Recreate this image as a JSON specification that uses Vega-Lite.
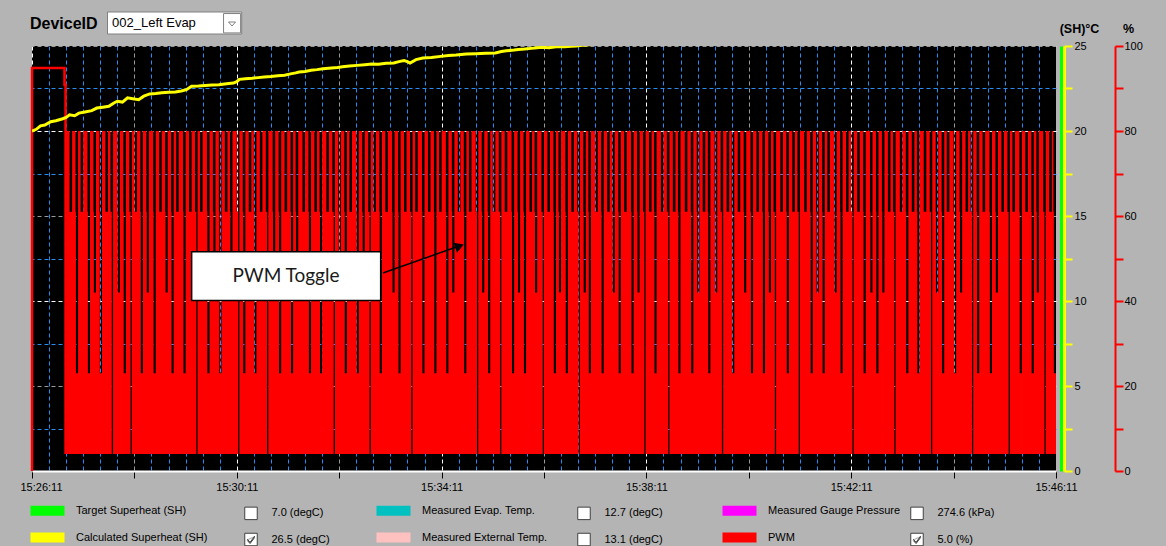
{
  "$schema": "https://vega.github.io/schema/vega-lite/v6.json",
  "autosize": {"type": "none"},
  "padding": {"left": 32, "top": 46, "right": 110, "bottom": 75},
  "width": 1024,
  "height": 425,
  "background": "#b4b4b4",
  "config": {
    "view": {"fill": "#000000", "stroke": null},
    "font": "Liberation Sans",
    "axis": {"labelFont": "Liberation Sans", "titleFont": "Liberation Sans"},
    "legend": {"labelFont": "Liberation Sans", "titleFont": "Liberation Sans"}
  },
  "encoding": {
    "x": {
      "field": "t",
      "type": "quantitative",
      "scale": {"domain": [0, 1200], "nice": false, "zero": false},
      "axis": {
        "title": null,
        "values": [0,20,40,60,80,100,120,140,160,180,200,220,240,260,280,300,320,340,360,380,400,420,440,460,480,500,520,540,560,580,600,620,640,660,680,700,720,740,760,780,800,820,840,860,880,900,920,940,960,980,1000,1020,1040,1060,1080,1100,1120,1140,1160,1180,1200],
        "domainColor": "#ffffff",
        "domainWidth": 2,
        "tickColor": "#000000",
        "tickSize": 7,
        "tickWidth": 1,
        "tickOpacity": {"condition": {"test": "datum.value % 120 == 0", "value": 1}, "value": 0},
        "labelExpr": "datum.value % 240 == 0 ? timeFormat(datetime(2024, 0, 1, 15, 26, 11 + datum.value), '%H:%M:%S') : ''",
        "labelFontSize": 11,
        "labelColor": "#000000",
        "labelPadding": 3,
        "labelFlush": false,
        "labelOverlap": false,
        "labelBound": false,
        "labelOffset": {"condition": {"test": "datum.value == 0", "value": 9}, "value": 0},
        "grid": true,
        "gridColor": {"condition": {"test": "datum.value % 120 == 0", "value": "#ffffff"}, "value": "#2a8cf0"},
        "gridOpacity": {"condition": {"test": "datum.value % 240 == 0 || datum.value % 120 != 0", "value": 1}, "value": 0.6},
        "gridWidth": {"condition": {"test": "datum.value == 1200", "value": 0}, "value": 1},
        "gridDash": [4, 3]
      }
    }
  },
  "resolve": {"scale": {"y": "independent"}, "axis": {"y": "independent"}},
  "layer": [
    {
      "data": {"values": [
        {"t":40,"p":80},{"t":44,"p":61},
        {"t":47,"p":80},{"t":51,"p":61},{"t":51.5,"p":23},
        {"t":54,"p":80},{"t":57,"p":61},
        {"t":60,"p":80},{"t":65,"p":61},{"t":65.5,"p":23},
        {"t":68,"p":80},{"t":72,"p":61},{"t":72.5,"p":42},
        {"t":75,"p":80},{"t":79,"p":61},{"t":79.5,"p":23},
        {"t":82,"p":80},{"t":86,"p":61},
        {"t":89,"p":80},{"t":92,"p":61},{"t":93.5,"p":4},
        {"t":95,"p":80},{"t":100,"p":61},{"t":100.5,"p":42},
        {"t":103,"p":80},{"t":107,"p":61},{"t":107.5,"p":23},
        {"t":110,"p":80},{"t":114,"p":61},{"t":115.5,"p":4},
        {"t":117,"p":80},{"t":120,"p":61},
        {"t":123,"p":80},{"t":127,"p":61},{"t":127.5,"p":23},
        {"t":130,"p":80},{"t":134,"p":61},{"t":134.5,"p":42},
        {"t":137,"p":80},{"t":142,"p":61},{"t":142.5,"p":23},
        {"t":145,"p":80},{"t":149,"p":61},
        {"t":152,"p":80},{"t":156,"p":61},{"t":156.5,"p":42},
        {"t":159,"p":80},{"t":163,"p":61},{"t":163.5,"p":23},
        {"t":166,"p":80},{"t":169,"p":61},
        {"t":172,"p":80},{"t":177,"p":61},{"t":177.5,"p":23},
        {"t":180,"p":80},{"t":184,"p":61},
        {"t":187,"p":80},{"t":191,"p":61},{"t":192.5,"p":4},
        {"t":194,"p":80},{"t":197,"p":61},
        {"t":200,"p":80},{"t":205,"p":61},{"t":205.5,"p":23},
        {"t":208,"p":80},{"t":212,"p":61},{"t":212.5,"p":42},
        {"t":215,"p":80},{"t":219,"p":61},{"t":219.5,"p":23},
        {"t":222,"p":80},{"t":226,"p":61},
        {"t":229,"p":80},{"t":232,"p":61},{"t":232.5,"p":42},
        {"t":235,"p":80},{"t":240,"p":61},{"t":241.5,"p":4},
        {"t":243,"p":80},{"t":247,"p":61},{"t":247.5,"p":23},
        {"t":250,"p":80},{"t":254,"p":61},
        {"t":257,"p":80},{"t":260,"p":61},{"t":260.5,"p":23},
        {"t":263,"p":80},{"t":267,"p":61},
        {"t":270,"p":80},{"t":274,"p":61},{"t":275.5,"p":4},
        {"t":277,"p":80},{"t":282,"p":61},{"t":282.5,"p":42},
        {"t":285,"p":80},{"t":289,"p":61},{"t":289.5,"p":23},
        {"t":292,"p":80},{"t":296,"p":61},
        {"t":299,"p":80},{"t":303,"p":61},{"t":303.5,"p":23},
        {"t":306,"p":80},{"t":309,"p":61},{"t":309.5,"p":42},
        {"t":312,"p":80},{"t":317,"p":61},
        {"t":320,"p":80},{"t":324,"p":61},{"t":324.5,"p":23},
        {"t":327,"p":80},{"t":331,"p":61},
        {"t":334,"p":80},{"t":337,"p":61},{"t":337.5,"p":23},
        {"t":340,"p":80},{"t":345,"p":61},
        {"t":348,"p":80},{"t":352,"p":61},{"t":353.5,"p":4},
        {"t":355,"p":80},{"t":359,"p":61},{"t":359.5,"p":42},
        {"t":362,"p":80},{"t":366,"p":61},{"t":366.5,"p":23},
        {"t":369,"p":80},{"t":372,"p":61},
        {"t":375,"p":80},{"t":380,"p":61},{"t":380.5,"p":23},
        {"t":383,"p":80},{"t":387,"p":61},{"t":387.5,"p":42},
        {"t":390,"p":80},{"t":394,"p":61},{"t":395.5,"p":4},
        {"t":397,"p":80},{"t":400,"p":61},
        {"t":403,"p":80},{"t":407,"p":61},{"t":407.5,"p":23},
        {"t":410,"p":80},{"t":414,"p":61},
        {"t":417,"p":80},{"t":422,"p":61},{"t":422.5,"p":42},
        {"t":425,"p":80},{"t":429,"p":61},{"t":429.5,"p":23},
        {"t":432,"p":80},{"t":436,"p":61},
        {"t":439,"p":80},{"t":443,"p":61},{"t":444.5,"p":4},
        {"t":446,"p":80},{"t":449,"p":61},
        {"t":452,"p":80},{"t":457,"p":61},{"t":457.5,"p":23},
        {"t":460,"p":80},{"t":464,"p":61},
        {"t":467,"p":80},{"t":471,"p":61},{"t":471.5,"p":23},
        {"t":474,"p":80},{"t":477,"p":61},
        {"t":480,"p":80},{"t":485,"p":61},{"t":485.5,"p":23},
        {"t":488,"p":80},{"t":492,"p":61},{"t":492.5,"p":42},
        {"t":495,"p":80},{"t":499,"p":61},
        {"t":502,"p":80},{"t":506,"p":61},{"t":506.5,"p":23},
        {"t":509,"p":80},{"t":512,"p":61},
        {"t":515,"p":80},{"t":520,"p":61},{"t":521.5,"p":4},
        {"t":523,"p":80},{"t":527,"p":61},{"t":527.5,"p":42},
        {"t":530,"p":80},{"t":534,"p":61},{"t":534.5,"p":23},
        {"t":537,"p":80},{"t":540,"p":61},
        {"t":543,"p":80},{"t":547,"p":61},{"t":548.5,"p":4},
        {"t":550,"p":80},{"t":554,"p":61},
        {"t":557,"p":80},{"t":562,"p":61},{"t":562.5,"p":23},
        {"t":565,"p":80},{"t":569,"p":61},{"t":569.5,"p":42},
        {"t":572,"p":80},{"t":576,"p":61},{"t":576.5,"p":23},
        {"t":579,"p":80},{"t":583,"p":61},
        {"t":586,"p":80},{"t":589,"p":61},{"t":589.5,"p":42},
        {"t":592,"p":80},{"t":597,"p":61},{"t":598.5,"p":4},
        {"t":600,"p":80},{"t":604,"p":61},
        {"t":607,"p":80},{"t":611,"p":61},{"t":611.5,"p":23},
        {"t":614,"p":80},{"t":617,"p":61},{"t":617.5,"p":42},
        {"t":620,"p":80},{"t":625,"p":61},{"t":625.5,"p":23},
        {"t":628,"p":80},{"t":632,"p":61},
        {"t":635,"p":80},{"t":639,"p":61},{"t":640.5,"p":4},
        {"t":642,"p":80},{"t":646,"p":61},{"t":646.5,"p":42},
        {"t":649,"p":80},{"t":652,"p":61},{"t":652.5,"p":23},
        {"t":655,"p":80},{"t":660,"p":61},
        {"t":663,"p":80},{"t":667,"p":61},{"t":667.5,"p":23},
        {"t":670,"p":80},{"t":674,"p":61},
        {"t":677,"p":80},{"t":680,"p":61},{"t":680.5,"p":42},
        {"t":683,"p":80},{"t":687,"p":61},{"t":687.5,"p":23},
        {"t":690,"p":80},{"t":694,"p":61},
        {"t":697,"p":80},{"t":702,"p":61},{"t":702.5,"p":23},
        {"t":705,"p":80},{"t":709,"p":61},{"t":709.5,"p":42},
        {"t":712,"p":80},{"t":716,"p":61},{"t":717.5,"p":4},
        {"t":719,"p":80},{"t":723,"p":61},
        {"t":726,"p":80},{"t":729,"p":61},{"t":729.5,"p":23},
        {"t":732,"p":80},{"t":737,"p":61},
        {"t":740,"p":80},{"t":744,"p":61},{"t":745.5,"p":4},
        {"t":747,"p":80},{"t":751,"p":61},
        {"t":754,"p":80},{"t":757,"p":61},{"t":757.5,"p":23},
        {"t":760,"p":80},{"t":765,"p":61},
        {"t":768,"p":80},{"t":772,"p":61},{"t":772.5,"p":23},
        {"t":775,"p":80},{"t":779,"p":61},{"t":779.5,"p":42},
        {"t":782,"p":80},{"t":786,"p":61},
        {"t":789,"p":80},{"t":792,"p":61},{"t":792.5,"p":23},
        {"t":795,"p":80},{"t":800,"p":61},{"t":800.5,"p":42},
        {"t":803,"p":80},{"t":807,"p":61},{"t":808.5,"p":4},
        {"t":810,"p":80},{"t":814,"p":61},
        {"t":817,"p":80},{"t":820,"p":61},{"t":820.5,"p":23},
        {"t":823,"p":80},{"t":827,"p":61},
        {"t":830,"p":80},{"t":834,"p":61},{"t":834.5,"p":42},
        {"t":837,"p":80},{"t":842,"p":61},{"t":842.5,"p":23},
        {"t":845,"p":80},{"t":849,"p":61},
        {"t":852,"p":80},{"t":856,"p":61},{"t":856.5,"p":23},
        {"t":859,"p":80},{"t":863,"p":61},{"t":863.5,"p":42},
        {"t":866,"p":80},{"t":869,"p":61},{"t":870.5,"p":4},
        {"t":872,"p":80},{"t":877,"p":61},
        {"t":880,"p":80},{"t":884,"p":61},{"t":884.5,"p":23},
        {"t":887,"p":80},{"t":891,"p":61},
        {"t":894,"p":80},{"t":897,"p":61},{"t":898.5,"p":4},
        {"t":900,"p":80},{"t":905,"p":61},
        {"t":908,"p":80},{"t":912,"p":61},{"t":912.5,"p":23},
        {"t":915,"p":80},{"t":919,"p":61},{"t":919.5,"p":42},
        {"t":922,"p":80},{"t":926,"p":61},{"t":926.5,"p":23},
        {"t":929,"p":80},{"t":932,"p":61},
        {"t":935,"p":80},{"t":940,"p":61},{"t":940.5,"p":42},
        {"t":943,"p":80},{"t":947,"p":61},{"t":947.5,"p":23},
        {"t":950,"p":80},{"t":954,"p":61},
        {"t":957,"p":80},{"t":960,"p":61},{"t":961.5,"p":4},
        {"t":963,"p":80},{"t":967,"p":61},
        {"t":970,"p":80},{"t":974,"p":61},{"t":974.5,"p":23},
        {"t":977,"p":80},{"t":982,"p":61},{"t":982.5,"p":42},
        {"t":985,"p":80},{"t":989,"p":61},{"t":989.5,"p":23},
        {"t":992,"p":80},{"t":996,"p":61},{"t":996.5,"p":42},
        {"t":999,"p":80},{"t":1003,"p":61},
        {"t":1006,"p":80},{"t":1009,"p":61},{"t":1010.5,"p":4},
        {"t":1012,"p":80},{"t":1017,"p":61},
        {"t":1020,"p":80},{"t":1024,"p":61},{"t":1024.5,"p":23},
        {"t":1027,"p":80},{"t":1031,"p":61},
        {"t":1034,"p":80},{"t":1037,"p":61},{"t":1037.5,"p":23},
        {"t":1040,"p":80},{"t":1045,"p":61},
        {"t":1048,"p":80},{"t":1052,"p":61},{"t":1053.5,"p":4},
        {"t":1055,"p":80},{"t":1059,"p":61},{"t":1059.5,"p":42},
        {"t":1062,"p":80},{"t":1066,"p":61},{"t":1066.5,"p":23},
        {"t":1069,"p":80},{"t":1072,"p":61},
        {"t":1075,"p":80},{"t":1080,"p":61},{"t":1080.5,"p":23},
        {"t":1083,"p":80},{"t":1087,"p":61},{"t":1087.5,"p":42},
        {"t":1090,"p":80},{"t":1094,"p":61},
        {"t":1097,"p":80},{"t":1100,"p":61},{"t":1101.5,"p":4},
        {"t":1103,"p":80},{"t":1107,"p":61},{"t":1107.5,"p":23},
        {"t":1110,"p":80},{"t":1114,"p":61},
        {"t":1117,"p":80},{"t":1122,"p":61},{"t":1122.5,"p":23},
        {"t":1125,"p":80},{"t":1129,"p":61},{"t":1129.5,"p":42},
        {"t":1132,"p":80},{"t":1136,"p":61},
        {"t":1139,"p":80},{"t":1143,"p":61},{"t":1144.5,"p":4},
        {"t":1146,"p":80},{"t":1149,"p":61},
        {"t":1152,"p":80},{"t":1157,"p":61},{"t":1157.5,"p":23},
        {"t":1160,"p":80},{"t":1164,"p":61},
        {"t":1167,"p":80},{"t":1171,"p":61},{"t":1171.5,"p":23},
        {"t":1174,"p":80},{"t":1177,"p":61},{"t":1177.5,"p":42},
        {"t":1180,"p":80},{"t":1185,"p":61},{"t":1186.5,"p":4},
        {"t":1188,"p":80},{"t":1192,"p":61},
        {"t":1195,"p":80},{"t":1197,"p":61},{"t":1197.5,"p":23},
        {"t":1200,"p":23}
      ]},
      "mark": {"type": "area", "interpolate": "step-after", "color": "#ff0000", "clip": true},
      "encoding": {
        "y": {
          "field": "p", "type": "quantitative",
          "scale": {"domain": [0, 100], "nice": false},
          "axis": {
            "orient": "right", "offset": 59,
            "values": [0,10,20,30,40,50,60,70,80,90,100],
            "domainColor": "#ff0000", "domainWidth": 2,
            "tickColor": "#ff0000", "tickWidth": 2, "tickSize": 8,
            "labelExpr": "datum.value % 20 == 0 ? format(datum.value, 'd') : ''",
            "labelPadding": 1, "labelFontSize": 11, "labelColor": "#000000",
            "labelOverlap": false, "labelFlush": false,
            "grid": false,
            "title": "%", "titleAngle": 0, "titleX": 13, "titleY": -18,
            "titleAlign": "center", "titleBaseline": "middle",
            "titleFontSize": 12.5, "titleFontWeight": "bold", "titleColor": "#000000"
          }
        },
        "y2": {"datum": 4}
      }
    },
    {
      "data": {"values": [
        {"t":0,"p":0},{"t":0,"p":94.8},{"t":38.1,"p":94.8},{"t":38.1,"p":90.9},{"t":39.3,"p":90.9},{"t":39.3,"p":4}
      ]},
      "mark": {"type": "line", "color": "#ff0000", "strokeWidth": 2.5},
      "encoding": {
        "y": {
          "field": "p", "type": "quantitative",
          "scale": {"domain": [0, 100], "nice": false},
          "axis": {
            "orient": "right", "offset": 5,
            "domainColor": "#00ff00", "domainWidth": 3,
            "ticks": false, "labels": false, "grid": false, "title": null
          }
        },
        "order": {"value": null}
      }
    },
    {
      "data": {"values": [
        {"t":0,"v":20.0},{"t":5,"v":20.1},{"t":10,"v":20.3},{"t":15,"v":20.35},{"t":22,"v":20.55},{"t":28,"v":20.6},
        {"t":36,"v":20.72},{"t":40,"v":20.8},{"t":44,"v":20.95},{"t":50,"v":20.9},{"t":55,"v":21.05},{"t":62,"v":21.12},
        {"t":70,"v":21.2},{"t":76,"v":21.35},{"t":83,"v":21.4},{"t":90,"v":21.45},{"t":96,"v":21.65},{"t":100,"v":21.75},
        {"t":106,"v":21.7},{"t":112,"v":21.95},{"t":118,"v":21.9},{"t":125,"v":21.84},{"t":131,"v":22.05},{"t":138,"v":22.18},
        {"t":145,"v":22.2},{"t":152,"v":22.25},{"t":160,"v":22.28},{"t":168,"v":22.3},{"t":175,"v":22.35},{"t":181,"v":22.43},
        {"t":187,"v":22.63},{"t":195,"v":22.65},{"t":203,"v":22.68},{"t":211,"v":22.7},{"t":219,"v":22.72},{"t":228,"v":22.78},
        {"t":236,"v":22.82},{"t":240,"v":22.9},{"t":243,"v":23.04},{"t":250,"v":23.08},{"t":258,"v":23.1},{"t":265,"v":23.14},
        {"t":272,"v":23.17},{"t":280,"v":23.2},{"t":288,"v":23.25},{"t":296,"v":23.28},{"t":303,"v":23.36},{"t":309,"v":23.42},
        {"t":313,"v":23.47},{"t":320,"v":23.5},{"t":327,"v":23.57},{"t":334,"v":23.61},{"t":341,"v":23.66},{"t":351,"v":23.71},
        {"t":358,"v":23.74},{"t":364,"v":23.78},{"t":372,"v":23.82},{"t":381,"v":23.86},{"t":390,"v":23.9},{"t":398,"v":23.94},
        {"t":406,"v":23.93},{"t":415,"v":23.98},{"t":424,"v":24.0},{"t":430,"v":24.08},{"t":436,"v":24.14},{"t":440,"v":24.08},
        {"t":443,"v":24.0},{"t":450,"v":24.2},{"t":458,"v":24.29},{"t":468,"v":24.33},{"t":479,"v":24.39},{"t":488,"v":24.44},
        {"t":497,"v":24.47},{"t":509,"v":24.53},{"t":520,"v":24.55},{"t":532,"v":24.57},{"t":543,"v":24.59},{"t":550,"v":24.68},
        {"t":556,"v":24.72},{"t":565,"v":24.76},{"t":570,"v":24.8},{"t":577,"v":24.82},{"t":585,"v":24.86},{"t":592,"v":24.9},
        {"t":598,"v":24.92},{"t":606,"v":24.9},{"t":614,"v":24.95},{"t":624,"v":24.96},{"t":632,"v":24.98},{"t":638,"v":25.0},
        {"t":645,"v":25.04},{"t":660,"v":25.1},{"t":680,"v":25.15},{"t":720,"v":25.3},{"t":760,"v":25.42},{"t":800,"v":25.55},
        {"t":850,"v":25.7},{"t":900,"v":25.85},{"t":950,"v":25.98},{"t":1000,"v":26.1},{"t":1050,"v":26.2},{"t":1100,"v":26.3},
        {"t":1150,"v":26.4},{"t":1200,"v":26.5}
      ]},
      "mark": {"type": "line", "color": "#ffff00", "strokeWidth": 3, "clip": true},
      "encoding": {
        "y": {
          "field": "v", "type": "quantitative",
          "scale": {"domain": [0, 25], "nice": false},
          "axis": {
            "orient": "right", "offset": 8,
            "values": [0,2.5,5,7.5,10,12.5,15,17.5,20,22.5,25],
            "domainColor": "#ffff00", "domainWidth": 3,
            "tickColor": "#ffff00", "tickWidth": 2, "tickSize": 8,
            "labelExpr": "datum.value % 5 == 0 ? format(datum.value, 'd') : ''",
            "labelPadding": 2, "labelFontSize": 11, "labelColor": "#000000",
            "labelOverlap": false, "labelFlush": false,
            "grid": true,
            "gridColor": {"condition": {"test": "datum.value % 5 == 0", "value": "#ffffff"}, "value": "#2a8cf0"},
            "gridOpacity": {"condition": {"test": "datum.value == 10 || datum.value == 20 || datum.value % 5 != 0", "value": 1}, "value": 0.6},
            "gridDash": [4, 3],
            "title": "(SH)°C", "titleAngle": 0, "titleX": 15, "titleY": -18,
            "titleAlign": "center", "titleBaseline": "middle",
            "titleFontSize": 12.5, "titleFontWeight": "bold", "titleColor": "#000000"
          }
        }
      }
    },
    {
      "data": {"values": [{"t": 187.1, "t2": 408.6, "p": 40.1, "p2": 51.6}]},
      "mark": {"type": "rect", "fill": "#ffffff", "stroke": "#000000", "strokeWidth": 1.5},
      "encoding": {
        "x2": {"field": "t2"},
        "y": {"field": "p", "type": "quantitative", "scale": {"domain": [0, 100], "nice": false}, "axis": null},
        "y2": {"field": "p2"}
      }
    },
    {
      "data": {"values": [{"t": 297.7, "p": 45.9, "label": "PWM Toggle"}]},
      "mark": {"type": "text", "font": "Lato", "fontSize": 19, "color": "#1a1a1a", "align": "center", "baseline": "middle"},
      "encoding": {
        "y": {"field": "p", "type": "quantitative", "scale": {"domain": [0, 100], "nice": false}, "axis": null},
        "text": {"field": "label"}
      }
    },
    {
      "data": {"values": [{"t": 411.3, "t2": 503.0, "p": 46.6, "p2": 53.1}]},
      "mark": {"type": "rule", "color": "#000000", "strokeWidth": 1.5},
      "encoding": {
        "x2": {"field": "t2"},
        "y": {"field": "p", "type": "quantitative", "scale": {"domain": [0, 100], "nice": false}, "axis": null},
        "y2": {"field": "p2"}
      }
    },
    {
      "data": {"values": [{"t": 501.0, "p": 52.9}]},
      "mark": {"type": "point", "shape": "triangle-up", "filled": true, "color": "#000000", "size": 110, "angle": 70, "opacity": 1},
      "encoding": {
        "y": {"field": "p", "type": "quantitative", "scale": {"domain": [0, 100], "nice": false}, "axis": null}
      }
    },
    {
      "data": {"values": [
        {"series": "Target Superheat (SH)", "reading": "7.0 (degC)", "device": "002_Left Evap"},
        {"series": "Measured Evap. Temp.", "reading": "12.7 (degC)", "device": "002_Left Evap"},
        {"series": "Measured Gauge Pressure", "reading": "274.6 (kPa)", "device": "002_Left Evap"},
        {"series": "Calculated Superheat (SH)", "reading": "26.5 (degC)", "device": "002_Left Evap"},
        {"series": "Measured External Temp.", "reading": "13.1 (degC)", "device": "002_Left Evap"},
        {"series": "PWM", "reading": "5.0 (%)", "device": "002_Left Evap"}
      ]},
      "mark": {"type": "point", "filled": true, "opacity": 0},
      "encoding": {
        "color": {
          "field": "series", "type": "nominal",
          "scale": {
            "domain": ["Target Superheat (SH)", "Measured Evap. Temp.", "Measured Gauge Pressure", "Calculated Superheat (SH)", "Measured External Temp.", "PWM"],
            "range": ["#00ff00", "#00c0c0", "#ff00ff", "#ffff00", "#ffc0c0", "#ff0000"]
          },
          "legend": {
            "orient": "none", "legendX": -2, "legendY": 459, "direction": "horizontal", "columns": 3,
            "title": null, "padding": 0,
            "symbolType": "M-1,-1H5.8V1H-1Z", "symbolSize": 100, "symbolStrokeWidth": 0, "symbolOpacity": 1,
            "labelOffset": 35, "labelFontSize": 11, "labelColor": "#000000", "labelLimit": 300,
            "columnPadding": 167, "rowPadding": 15, "gridAlign": "all",
            "encode": {"symbols": {"update": {"opacity": {"value": 1}}}}
          }
        },
        "shape": {
          "field": "reading", "type": "nominal",
          "scale": {
            "domain": ["7.0 (degC)", "12.7 (degC)", "274.6 (kPa)", "26.5 (degC)", "13.1 (degC)", "5.0 (%)"],
            "range": [
              "M-1,-1H1V1H-1Z",
              "M-1,-1H1V1H-1Z",
              "M-1,-1H1V1H-1Z",
              "M-1,-1H1V1H-1Z M-0.6,-0.05L-0.15,0.45L0.6,-0.55 M-0.6,0.15L-0.15,0.65L0.6,-0.35",
              "M-1,-1H1V1H-1Z",
              "M-1,-1H1V1H-1Z M-0.6,-0.05L-0.15,0.45L0.6,-0.55 M-0.6,0.15L-0.15,0.65L0.6,-0.35"
            ]
          },
          "legend": {
            "orient": "none", "legendX": 212, "legendY": 460, "direction": "horizontal", "columns": 3,
            "title": null, "padding": 0,
            "symbolSize": 156, "symbolFillColor": "#ffffff", "symbolStrokeColor": "#404040", "symbolStrokeWidth": 1, "symbolOpacity": 1,
            "labelOffset": 13.5, "labelFontSize": 11, "labelColor": "#000000", "labelLimit": 300,
            "columnPadding": 245, "rowPadding": 8.5, "gridAlign": "all",
            "encode": {"symbols": {"update": {"fill": {"value": "#ffffff"}, "stroke": {"value": "#404040"}, "strokeWidth": {"value": 1}, "opacity": {"value": 1}}}}
          }
        },
        "size": {
          "field": "device", "type": "nominal",
          "scale": {"type": "ordinal", "domain": ["002_Left Evap"], "range": [484]},
          "legend": {
            "orient": "none", "legendX": -2, "legendY": -34.5,
            "title": "DeviceID", "titleOrient": "left", "titleAnchor": "middle", "titleBaseline": "middle",
            "titleFontSize": 16, "titleFontWeight": "bold", "titleColor": "#000000", "titlePadding": 9,
            "padding": 0,
            "symbolType": "M-1,-1H11.2V1H-1Z M9.55,-0.86H11.1V0.9H9.55Z M10,-0.09L10.64,-0.09L10.32,0.27Z",
            "symbolFillColor": "#ffffff", "symbolStrokeColor": "#808080", "symbolStrokeWidth": 1, "symbolOpacity": 1,
            "labelOffset": -18, "labelFontSize": 13, "labelColor": "#000000",
            "encode": {"symbols": {"update": {"fill": {"value": "#ffffff"}, "stroke": {"value": "#808080"}, "strokeWidth": {"value": 1}, "opacity": {"value": 1}, "size": {"value": 484}}}}
          }
        }
      }
    }
  ]
}
